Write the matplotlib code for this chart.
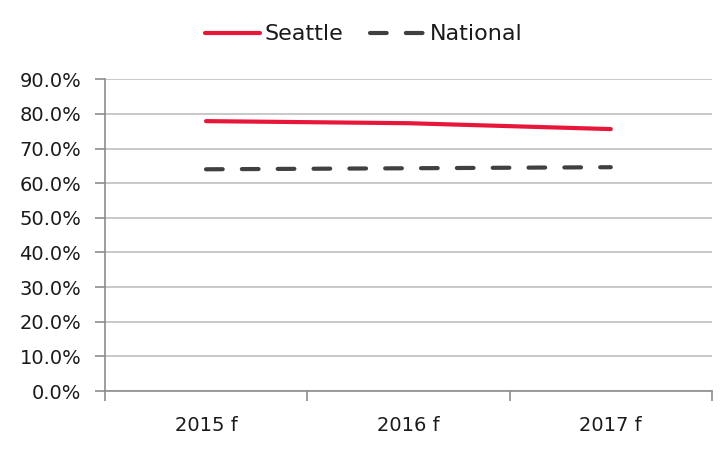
import numpy as np
import matplotlib.pyplot as plt
from matplotlib.ticker import PercentFormatter

plt.rcParams['font.family'] = ['DejaVu Sans']

# Data
years = ['2015 f', '2016 f', '2017 f']
seattle = [77.9, 77.3, 75.6]
national = [64.0, 64.3, 64.6]

fig = plt.figure(figsize=(7.28, 4.5), dpi=100)
ax = fig.add_axes([0.144, 0.131, 0.834, 0.693])

x = np.arange(len(years))
ax.plot(x, np.array(seattle) / 100, color='#e8173a', linewidth=3.0,
        solid_capstyle='round', label='Seattle')
ax.plot(x, np.array(national) / 100, color='#404040', linewidth=3.0,
        linestyle=(0, (4, 4.6)), dash_capstyle='round', label='National')

ax.set_ylim(0, 0.9)
ax.set_yticks(np.arange(0, 0.91, 0.1))
ax.yaxis.set_major_formatter(PercentFormatter(1.0, decimals=1))
ax.set_xlim(-0.5, 2.5)
ax.set_xticks([-0.5, 0.5, 1.5, 2.5])
ax.set_xticklabels([])
ax.set_xticks(x, minor=True)
ax.set_xticklabels(years, minor=True)

ax.grid(axis='y', color='#bfbfbf', linewidth=1.2)
ax.set_axisbelow(True)
for s in ['top', 'right']:
    ax.spines[s].set_visible(False)
for s in ['left', 'bottom']:
    ax.spines[s].set_color('#8c8c8c')
    ax.spines[s].set_linewidth(1.2)

ax.tick_params(axis='y', which='major', length=7, width=1.2, color='#8c8c8c',
               labelsize=14, labelcolor='#1a1a1a', pad=10)
ax.tick_params(axis='x', which='major', length=7, width=1.2, color='#8c8c8c')
ax.tick_params(axis='x', which='minor', length=0, labelsize=14,
               labelcolor='#1a1a1a', pad=18)

fig.legend(loc='upper center', bbox_to_anchor=(0.5, 0.99), ncol=2,
           frameon=False, fontsize=16, handlelength=2.5, handletextpad=0.2,
           columnspacing=1.2, labelcolor='#1a1a1a')

fig.savefig('out.png', dpi=100)
